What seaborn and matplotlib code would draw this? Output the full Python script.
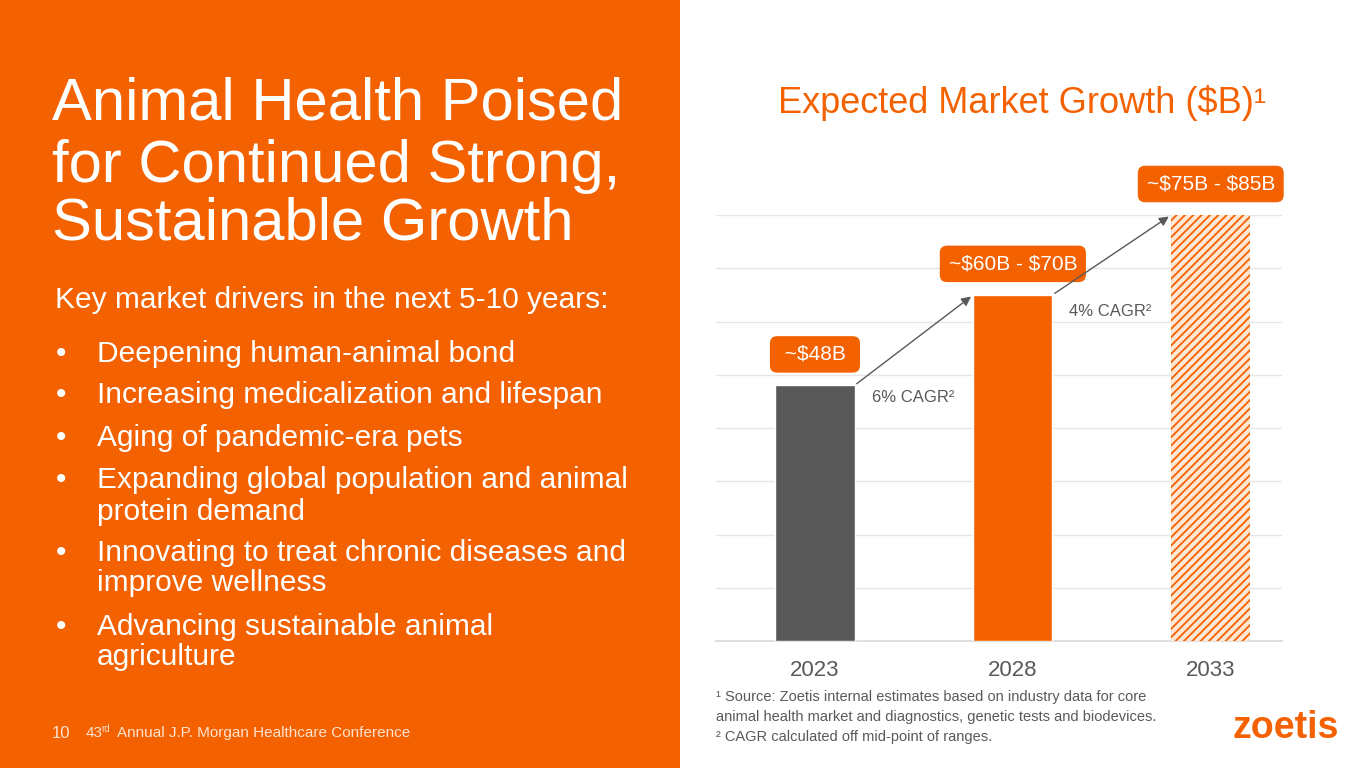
import matplotlib
matplotlib.use("Agg")
import matplotlib.pyplot as plt
from matplotlib.patches import Rectangle
import seaborn as sns
import pandas as pd

# ---------------- data ----------------
years = ["2023", "2028", "2033"]
market_mid = [48, 65, 80]            # $B (mid-point of ranges)
value_labels = [" ~\\$48B ", "~\\$60B - \\$70B", "~\\$75B - \\$85B"]
cagr_labels = ["6% CAGR²", "4% CAGR²"]
bullets = [
    ["Deepening human-animal bond"],
    ["Increasing medicalization and lifespan"],
    ["Aging of pandemic-era pets"],
    ["Expanding global population and animal", "protein demand"],
    ["Innovating to treat chronic diseases and", "improve wellness"],
    ["Advancing sustainable animal", "agriculture"],
]
title_lines = ["Animal Health Poised", "for Continued Strong,", "Sustainable Growth"]
footnotes = [
    "¹ Source: Zoetis internal estimates based on industry data for core",
    "animal health market and diagnostics, genetic tests and biodevices.",
    "² CAGR calculated off mid-point of ranges.",
]

ORANGE = "#F46100"
GRAY = "#595959"
LIGHT = "#FDE6D4"
WHITE_SOFT = "#FDE3CF"

sns.set_theme(style="white")
plt.rcParams["font.family"] = ["Liberation Sans", "DejaVu Sans"]
plt.rcParams["hatch.linewidth"] = 1.3

W, H = 1365, 768
fig = plt.figure(figsize=(W / 100, H / 100), dpi=100)
fig.patch.set_facecolor("white")

def fx(px):
    return px / W

def fy(py):
    return 1 - py / H

# left orange panel
fig.patches.append(Rectangle((0, 0), fx(680), 1, transform=fig.transFigure,
                             facecolor=ORANGE, edgecolor="none", zorder=0))

# title
for line, base in zip(title_lines, [120, 182, 240]):
    fig.text(fx(52), fy(base), line, color="white", fontsize=43,
             ha="left", va="baseline")

fig.text(fx(55), fy(300), "Key market drivers in the next 5-10 years:",
         color="white", fontsize=21.5, ha="left", va="center")

# bullets
item_y = [[354], [395], [438], [480, 512], [553, 583], [627, 657]]
for lines, ys in zip(bullets, item_y):
    fig.text(fx(56), fy(ys[0]), "•", color="white", fontsize=21.5,
             ha="left", va="center")
    for ln, yy in zip(lines, ys):
        fig.text(fx(97), fy(yy), ln, color="white", fontsize=21.5,
                 ha="left", va="center")

# footer
fig.text(fx(52), fy(733), "10", color=WHITE_SOFT, fontsize=12, ha="left", va="center")
fig.text(fx(86), fy(733), "43", color=WHITE_SOFT, fontsize=11, ha="left", va="center")
fig.text(fx(101), fy(729), "rd", color=WHITE_SOFT, fontsize=7, ha="left", va="center")
fig.text(fx(117), fy(733), "Annual J.P. Morgan Healthcare Conference",
         color=WHITE_SOFT, fontsize=11, ha="left", va="center")

# chart title
fig.text(fx(778), fy(103), "Expected Market Growth (\\$B)¹", color=ORANGE,
         fontsize=26, ha="left", va="center")

# ---------------- chart ----------------
ax = fig.add_axes([fx(716), fy(641), fx(1282) - fx(716), (641 - 215) / H])
df = pd.DataFrame({"year": years, "value": market_mid})
sns.barplot(data=df, x="year", y="value", hue="year",
            palette=[GRAY, ORANGE, ORANGE], width=0.4, legend=False,
            saturation=1, ax=ax, zorder=3)
bars = ax.patches
bars[2].set_facecolor(LIGHT)
bars[2].set_edgecolor(ORANGE)
bars[2].set_hatch("////")
bars[2].set_linewidth(0)

ax.set_xlim(-0.5, 2.36)
ax.set_ylim(0, 80)
ax.set_yticks(range(10, 81, 10))
ax.yaxis.grid(True, color="#E6E6E6", lw=1, zorder=0)
ax.set_axisbelow(True)
ax.tick_params(axis="y", left=False, labelleft=False)
ax.tick_params(axis="x", length=0, pad=14, labelsize=16, labelcolor=GRAY)
ax.set_xlabel("")
ax.set_ylabel("")
for s in ["top", "right", "left"]:
    ax.spines[s].set_visible(False)
ax.spines["bottom"].set_color("#D9D9D9")
ax.spines["bottom"].set_linewidth(1.2)

# value boxes
for i, (v, lab) in enumerate(zip(market_mid, value_labels)):
    ax.annotate(lab, xy=(i, v), xytext=(0, 31), textcoords="offset pixels",
                ha="center", va="center", fontsize=15, color="white",
                annotation_clip=False,
                bbox=dict(boxstyle="round,pad=0.42,rounding_size=0.35",
                          facecolor=ORANGE, edgecolor="none"))

# arrows + CAGR labels
half = 0.2
for i in range(len(market_mid) - 1):
    ax.annotate("", xy=(i + 1 - half, market_mid[i + 1]),
                xytext=(i + half, market_mid[i]),
                arrowprops=dict(arrowstyle="-|>", color=GRAY, lw=1,
                                mutation_scale=14, shrinkA=2, shrinkB=2),
                annotation_clip=False)
cagr_offsets = [(17, -12), (17, -17)]
for i, (lab, off) in enumerate(zip(cagr_labels, cagr_offsets)):
    ax.annotate(lab, xy=(i + half, market_mid[i]), xytext=off,
                textcoords="offset pixels", ha="left", va="center",
                fontsize=12, color=GRAY)

# footnotes
for ln, yy in zip(footnotes, [697, 717, 737]):
    fig.text(fx(716), fy(yy), ln, color=GRAY, fontsize=10.5, ha="left", va="center")

# logo
fig.text(fx(1232), fy(728), "zoetis", color=ORANGE, fontsize=27,
         fontweight="bold", ha="left", va="center")

fig.savefig("out.png", dpi=100)
